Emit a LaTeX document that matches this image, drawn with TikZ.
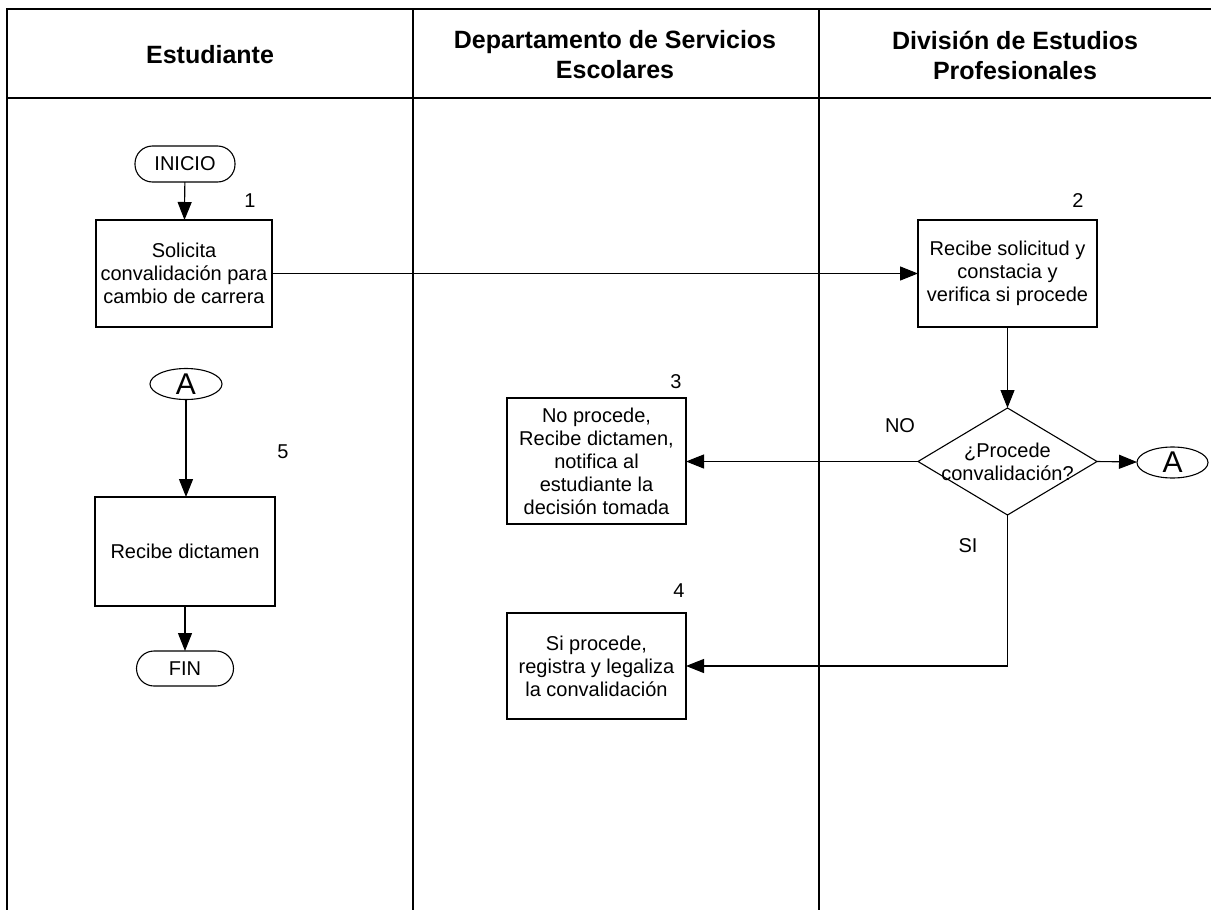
\documentclass[tikz,border=0pt]{standalone}
\usepackage{fontspec}
\setmainfont{Liberation Sans}
\usetikzlibrary{arrows.meta,shapes.geometric}
\begin{document}
\begin{tikzpicture}[x=1pt,y=-1pt,
  every node/.style={inner sep=0pt, outer sep=0pt},
  lane/.style={line width=1.3pt},
  hdr/.style={font=\fontsize{25}{30}\selectfont\bfseries, align=center},
  body/.style={font=\fontsize{20}{23}\selectfont, align=center},
  stepbox/.style={draw, line width=1.1pt, body},
  term/.style={draw, line width=1.1pt, rounded corners=17.5pt, body},
  conn/.style={draw, ellipse, line width=1.1pt, font=\fontsize{30}{30}\selectfont, text height=20pt, text depth=0pt},
  num/.style={font=\fontsize{20}{23}\selectfont},
  flow/.style={line width=1.1pt, -{Triangle[length=18pt,width=14pt]}},
  plain/.style={line width=1.1pt}
]
\useasboundingbox (0,0) rectangle (1211,910);
% swimlane frame
\draw[lane] (1211,9) -- (7,9) -- (7,910);
\draw[lane] (7,98) -- (1211,98);
\draw[lane] (413,9) -- (413,910);
\draw[lane] (819,9) -- (819,910);
% headers
\node[hdr] (h1) at (210,55) {Estudiante};
\node[hdr] (h2) at (615,55) {Departamento de Servicios\\Escolares};
\node[hdr] (h3) at (1015,55) {División de Estudios\\Profesionales};
% lane 1
\node[term, minimum width=100pt, minimum height=36pt] (ini) at (185,164) {INICIO};
\node[stepbox, minimum width=176pt, minimum height=107pt] (b1) at (184,273.5) {Solicita\\convalidación para\\cambio de carrera};
\node[num] (n1) at (250,201) {1};
\node[conn, minimum width=72pt, minimum height=31pt] (a1) at (186,384) {A};
\node[num] (n5) at (283,452) {5};
\node[stepbox, minimum width=180pt, minimum height=109pt] (b5) at (185,551.5) {Recibe dictamen};
\node[term, minimum width=97pt, minimum height=35pt] (fin) at (185,668.5) {FIN};
% lane 2
\node[num] (n3) at (676,382) {3};
\node[stepbox, minimum width=179pt, minimum height=126pt] (b3) at (596.5,461) {No procede,\\Recibe dictamen,\\notifica al\\estudiante la\\decisión tomada};
\node[num] (n4) at (679,591) {4};
\node[stepbox, minimum width=179pt, minimum height=106pt] (b4) at (596.5,666) {Si procede,\\registra y legaliza\\la convalidación};
% lane 3
\node[num] (n2) at (1078,201) {2};
\node[stepbox, minimum width=179pt, minimum height=107pt] (b2) at (1007.5,273.5) {Recibe solicitud y\\constacia y\\verifica si procede};
\node[draw, diamond, line width=1.1pt, minimum width=179pt, minimum height=107pt] (d) at (1007.5,461.5) {};
\node[body] (dt) at (1007.5,462) {¿Procede\\convalidación?};
\node[conn, minimum width=71pt, minimum height=31pt] (a2) at (1172.5,462.5) {A};
\node[num] (no) at (900,426) {NO};
\node[num] (si) at (968,546) {SI};
% connectors
\draw[flow] (ini) -- (b1);
\draw[flow] (b1) -- (b2);
\draw[flow] (b2) -- (d.north);
\draw[flow] (d.west) -- (b3.east |- d.west);
\draw[flow] (d.east) -- (a2);
\draw[flow] (d.south) |- (b4.east);
\draw[flow] (a1) -- (a1 |- b5.north);
\draw[flow] (b5) -- (fin);
\end{tikzpicture}
\end{document}
